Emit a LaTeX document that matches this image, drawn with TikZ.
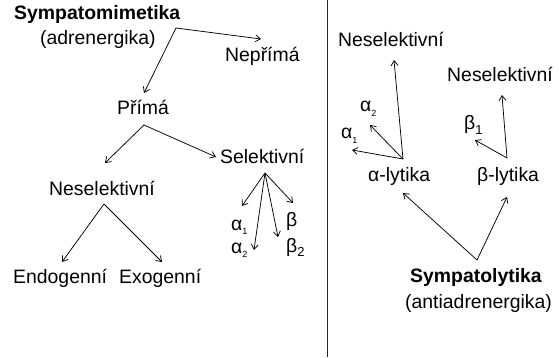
\documentclass[tikz,border=0pt]{standalone}
\usepackage{fontspec}
\setmainfont{Liberation Sans}
\usetikzlibrary{arrows.meta}
\tikzset{
  lbl/.style={inner sep=0pt, anchor=base west, font=\fontsize{19.4}{22}\selectfont},
  bold/.style={lbl, font=\fontsize{19.4}{22}\selectfont\bfseries},
  conn/.style={-{Straight Barb[length=5pt,width=7pt]}, line width=0.75pt},
  divider/.style={line width=1pt, black!85}
}
\newcommand{\gsub}[2]{#1\raisebox{-0.25em}{\fontsize{9}{9}\selectfont #2}}
\newcommand{\gsubb}[2]{#1\raisebox{-0.25em}{\fontsize{13}{13}\selectfont #2}}
\begin{document}
\begin{tikzpicture}[x=1pt,y=-1pt]
\useasboundingbox (0,0) rectangle (559,358);
\fill[white] (0,0) rectangle (559,358);

% divider between the two halves
\coordinate (divTop) at (327,0);
\coordinate (divBot) at (327,357);
\draw[divider] (divTop) -- (divBot);

% ---- Sympatomimetika ----
\node[bold] (sm) at (14,20) {Sympatomimetika};
\node[lbl] (smsub) at (40,45) {(adrenergika)};
\node[lbl] (nep) at (225,62) {Nepřímá};
\node[lbl] (pri) at (117,115) {Přímá};
\node[lbl] (sel) at (220,164) {Selektivní};
\node[lbl] (nes) at (49,195) {Neselektivní};
\node[lbl] (endo) at (13,283) {Endogenní};
\node[lbl] (exo) at (119,283) {Exogenní};
\node[lbl] (a1) at (231,230) {\gsub{α}{1}};
\node[lbl] (a2) at (231,253) {\gsub{α}{2}};
\node[lbl] (b) at (286,226) {β};
\node[lbl] (b2) at (286,252) {\gsubb{β}{2}};

\coordinate (smFork) at (176,28);
\coordinate (nepTip) at (261,39);
\coordinate (priTip) at (144,93);
\draw[conn] (smFork) -- (nepTip);
\draw[conn] (smFork) -- (priTip);

\coordinate (priFork) at (144,125);
\coordinate (nesTip) at (105,163);
\coordinate (selTip) at (216,157);
\draw[conn] (priFork) -- (nesTip);
\draw[conn] (priFork) -- (selTip);

\coordinate (nesFork) at (104,204);
\coordinate (endoTip) at (62,262);
\coordinate (exoTip) at (162,262);
\draw[conn] (nesFork) -- (endoTip);
\draw[conn] (nesFork) -- (exoTip);

\coordinate (selFork) at (265,173);
\coordinate (aoneTip) at (242,206);
\coordinate (atwoTip) at (254,250);
\coordinate (btwoTip) at (278,237);
\coordinate (bTip) at (293,203);
\draw[conn] (selFork) -- (aoneTip);
\draw[conn] (selFork) -- (atwoTip);
\draw[conn] (selFork) -- (btwoTip);
\draw[conn] (selFork) -- (bTip);

% ---- Sympatolytika ----
\node[lbl] (nesA) at (338,47) {Neselektivní};
\node[lbl] (nesB) at (447,82) {Neselektivní};
\node[lbl] (ra2) at (360,112) {\gsub{α}{2}};
\node[lbl] (ra1) at (341,139) {\gsub{α}{1}};
\node[lbl] (rb1) at (464,130) {\gsubb{β}{1}};
\node[lbl] (al) at (368,182) {α-lytika};
\node[lbl] (bl) at (477,182) {β-lytika};
\node[bold] (sl) at (410,282) {Sympatolytika};
\node[lbl] (slsub) at (405,308) {(antiadrenergika)};

\coordinate (alFork) at (403,159);
\coordinate (nesATip) at (394,60);
\coordinate (ratwoTip) at (370,125);
\coordinate (raoneTip) at (352,150);
\draw[conn] (alFork) -- (nesATip);
\draw[conn] (alFork) -- (ratwoTip);
\draw[conn] (alFork) -- (raoneTip);

\coordinate (blFork) at (507,158);
\coordinate (nesBTip) at (502,95);
\coordinate (rboneTip) at (475,140);
\draw[conn] (blFork) -- (nesBTip);
\draw[conn] (blFork) -- (rboneTip);

\coordinate (slFork) at (477,260);
\coordinate (alTip) at (403,193);
\coordinate (blTip) at (507,197);
\draw[conn] (slFork) -- (alTip);
\draw[conn] (slFork) -- (blTip);
\end{tikzpicture}
\end{document}
